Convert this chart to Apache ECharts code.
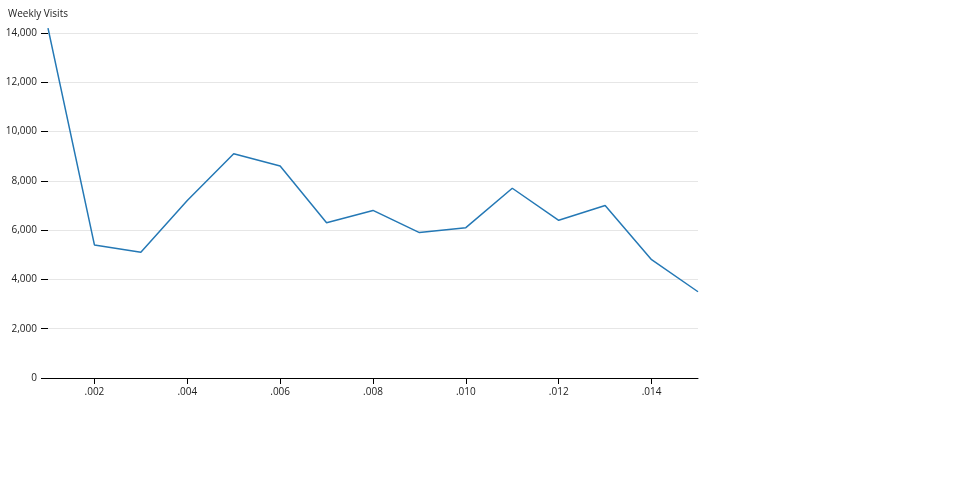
<!DOCTYPE html>
<html>
<head>
<meta charset="utf-8">
<script src="https://cdn.jsdelivr.net/npm/echarts@6/dist/echarts.min.js"></script>
<style>html,body{margin:0;padding:0;background:#fff}#c{width:960px;height:500px}</style>
</head>
<body>
<div id="c"></div>
<script>
const categories = ['0.001','0.002','0.003','0.004','0.005','0.006','0.007','0.008','0.009','0.010','0.011','0.012','0.013','0.014','0.015'];
const visits = [14200, 5400, 5100, 7200, 9100, 8600, 6300, 6800, 5900, 6100, 7700, 6400, 7000, 4800, 3500];
const yTicks = [0, 2000, 4000, 6000, 8000, 10000, 12000, 14000];

const chart = echarts.init(document.getElementById('c'));
const font = 'Open Sans';
const showEven = (i) => i % 2 === 1;
chart.setOption({
  animation: false,
  textStyle: {fontFamily: font},
  grid: {left: 48, right: 262, top: 33, bottom: 122, containLabel: false},
  xAxis: {
    type: 'category',
    data: categories,
    boundaryGap: false,
    axisLine: {show: true, lineStyle: {color: '#000', width: 1}},
    axisTick: {show: true, length: 6, interval: (i) => showEven(i), lineStyle: {color: '#000'}},
    axisLabel: {interval: (i) => showEven(i), margin: 9, fontSize: 10, color: '#222', fontFamily: font,
      formatter: (v) => v.replace(/^0/, '')},
    splitLine: {show: false}
  },
  yAxis: {
    type: 'value',
    min: yTicks[0], max: yTicks[yTicks.length - 1], interval: 2000,
    name: 'Weekly Visits',
    nameLocation: 'end',
    nameGap: 19,
    nameTextStyle: {align: 'left', verticalAlign: 'middle', padding: [0, 0, 0, -40], fontSize: 10, color: '#222', fontFamily: font},
    axisLine: {show: false},
    axisTick: {show: true, length: 7, lineStyle: {color: '#000'}},
    axisLabel: {margin: 11, fontSize: 10, color: '#222', fontFamily: font,
      formatter: (v) => v.toLocaleString('en-US')},
    splitLine: {show: true, lineStyle: {color: '#e6e6e6', width: 1}}
  },
  series: [{
    type: 'line',
    data: visits,
    clip: false,
    symbol: 'none',
    lineStyle: {color: '#2478b5', width: 1.5}
  }]
});
</script>
</body>
</html>
